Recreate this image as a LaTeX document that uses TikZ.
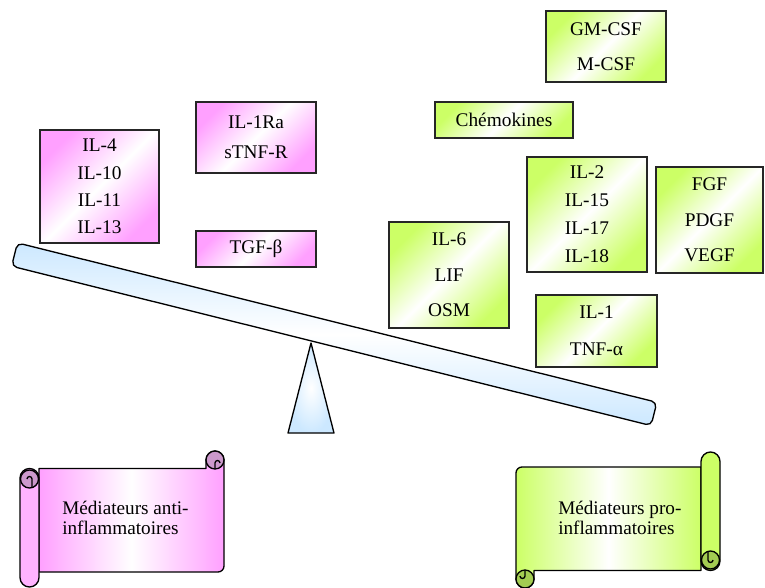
\documentclass[tikz,border=0pt]{standalone}
\usepackage{fontspec}
\setmainfont{Liberation Serif}
\definecolor{pinkc}{RGB}{255,160,255}
\definecolor{pinkroll}{RGB}{255,179,255}
\definecolor{pinkdark}{RGB}{204,153,204}
\definecolor{greenc}{RGB}{204,255,102}
\definecolor{greendark}{RGB}{163,204,82}
\definecolor{beamc}{RGB}{204,232,255}
\tikzset{
  cyto/.style={draw=black!85, line width=0.9pt, align=center, inner sep=0pt,
    font=\fontsize{14.5}{#1}\selectfont},
  boxsize/.style 2 args={minimum width=#1*0.75pt, minimum height=#2*0.75pt},
  anti/.style={cyto=#1, left color=pinkc, right color=pinkc, middle color=white, shading angle=45},
  pro/.style={cyto=#1, left color=greenc, right color=greenc, middle color=white, shading angle=45},
  scrolltext/.style={align=left, inner sep=0pt, font=\fontsize{14.4}{14.6}\selectfont},
  scrollline/.style={draw=black, line width=1pt, line join=round},
  beam/.style={draw, line width=1pt, rounded corners=4pt, inner sep=0pt,
    minimum width=659*0.75pt, minimum height=24*0.75pt,
    top color=beamc, bottom color=beamc, middle color=white},
  pics/scroll/.style n args={3}{code={
    \draw[scrollline, left color=#1, right color=#1, middle color=white]
      (-83,-50.5) -- (84,-50.5) -- (84,-59) arc[start angle=180, end angle=360, radius=9]
      -- (102,47) arc[start angle=0, end angle=90, radius=6] -- (-83,53) -- cycle;
    \filldraw[scrollline, fill=#3] (93,-59) circle[radius=9];
    \draw[scrollline] (93,-50.5) -- (93,-56) arc[start angle=180, end angle=360, radius=2.5];
    \filldraw[scrollline, fill=#2] (-102,-41) arc[start angle=180, end angle=360, radius=9.5]
      -- (-83,58.5) arc[start angle=0, end angle=180, radius=9.5] -- cycle;
    \filldraw[scrollline, fill=#3] (-92.5,-40) circle[radius=9];
    \draw[scrollline] (-90,-31.5) -- (-90,-40) arc[start angle=0, end angle=-180, radius=2.5];
  }}
}
\begin{document}
\begin{tikzpicture}[x=0.75pt, y=-0.75pt]
\useasboundingbox (0,0) rectangle (765,587);

\node[anti=20.6pt, boxsize={119}{113}] (il4) at (99.5,186.5) {IL-4\\IL-10\\IL-11\\IL-13};
\node[anti=22.5pt, boxsize={120}{71}] (ilra) at (256,137.5) {IL-1Ra\\sTNF-R};
\node[anti=17pt, boxsize={120}{36}] (tgf) at (256,249) {TGF-β};

\node[pro=26.25pt, boxsize={120}{71}] (csf) at (606,46.5) {GM-CSF\\M-CSF};
\node[pro=17pt, boxsize={138}{36}] (chemo) at (504,120) {Chémokines};
\node[pro=21pt, boxsize={120}{115}] (il2) at (587,214.5) {IL-2\\IL-15\\IL-17\\IL-18};
\node[pro=26.6pt, boxsize={107}{106}] (fgf) at (709.5,220) {FGF\\PDGF\\VEGF};
\node[pro=26.6pt, boxsize={120}{106}] (il6) at (449,275) {IL-6\\LIF\\OSM};
\node[pro=27.75pt, boxsize={121}{72}] (il1) at (596.5,331) {IL-1\\TNF-α};

\draw[line width=1pt, line join=round, inner color=white, outer color=beamc]
  (311,343) -- (334,433) -- (288,433) -- cycle;
\node[beam, rotate=-14] (bar) at (334.25,334.25) {};

\pic (antiscroll) at (122,519) {scroll={pinkc}{pinkroll}{pinkdark}};
\pic[rotate=180] (proscroll) at (618,520) {scroll={greenc}{greenc}{greendark}};
\node[scrolltext, anchor=west] (antilabel) at (62,518) {Médiateurs anti-\\inflammatoires};
\node[scrolltext, anchor=west] (prolabel) at (558,518) {Médiateurs pro-\\inflammatoires};
\end{tikzpicture}
\end{document}
